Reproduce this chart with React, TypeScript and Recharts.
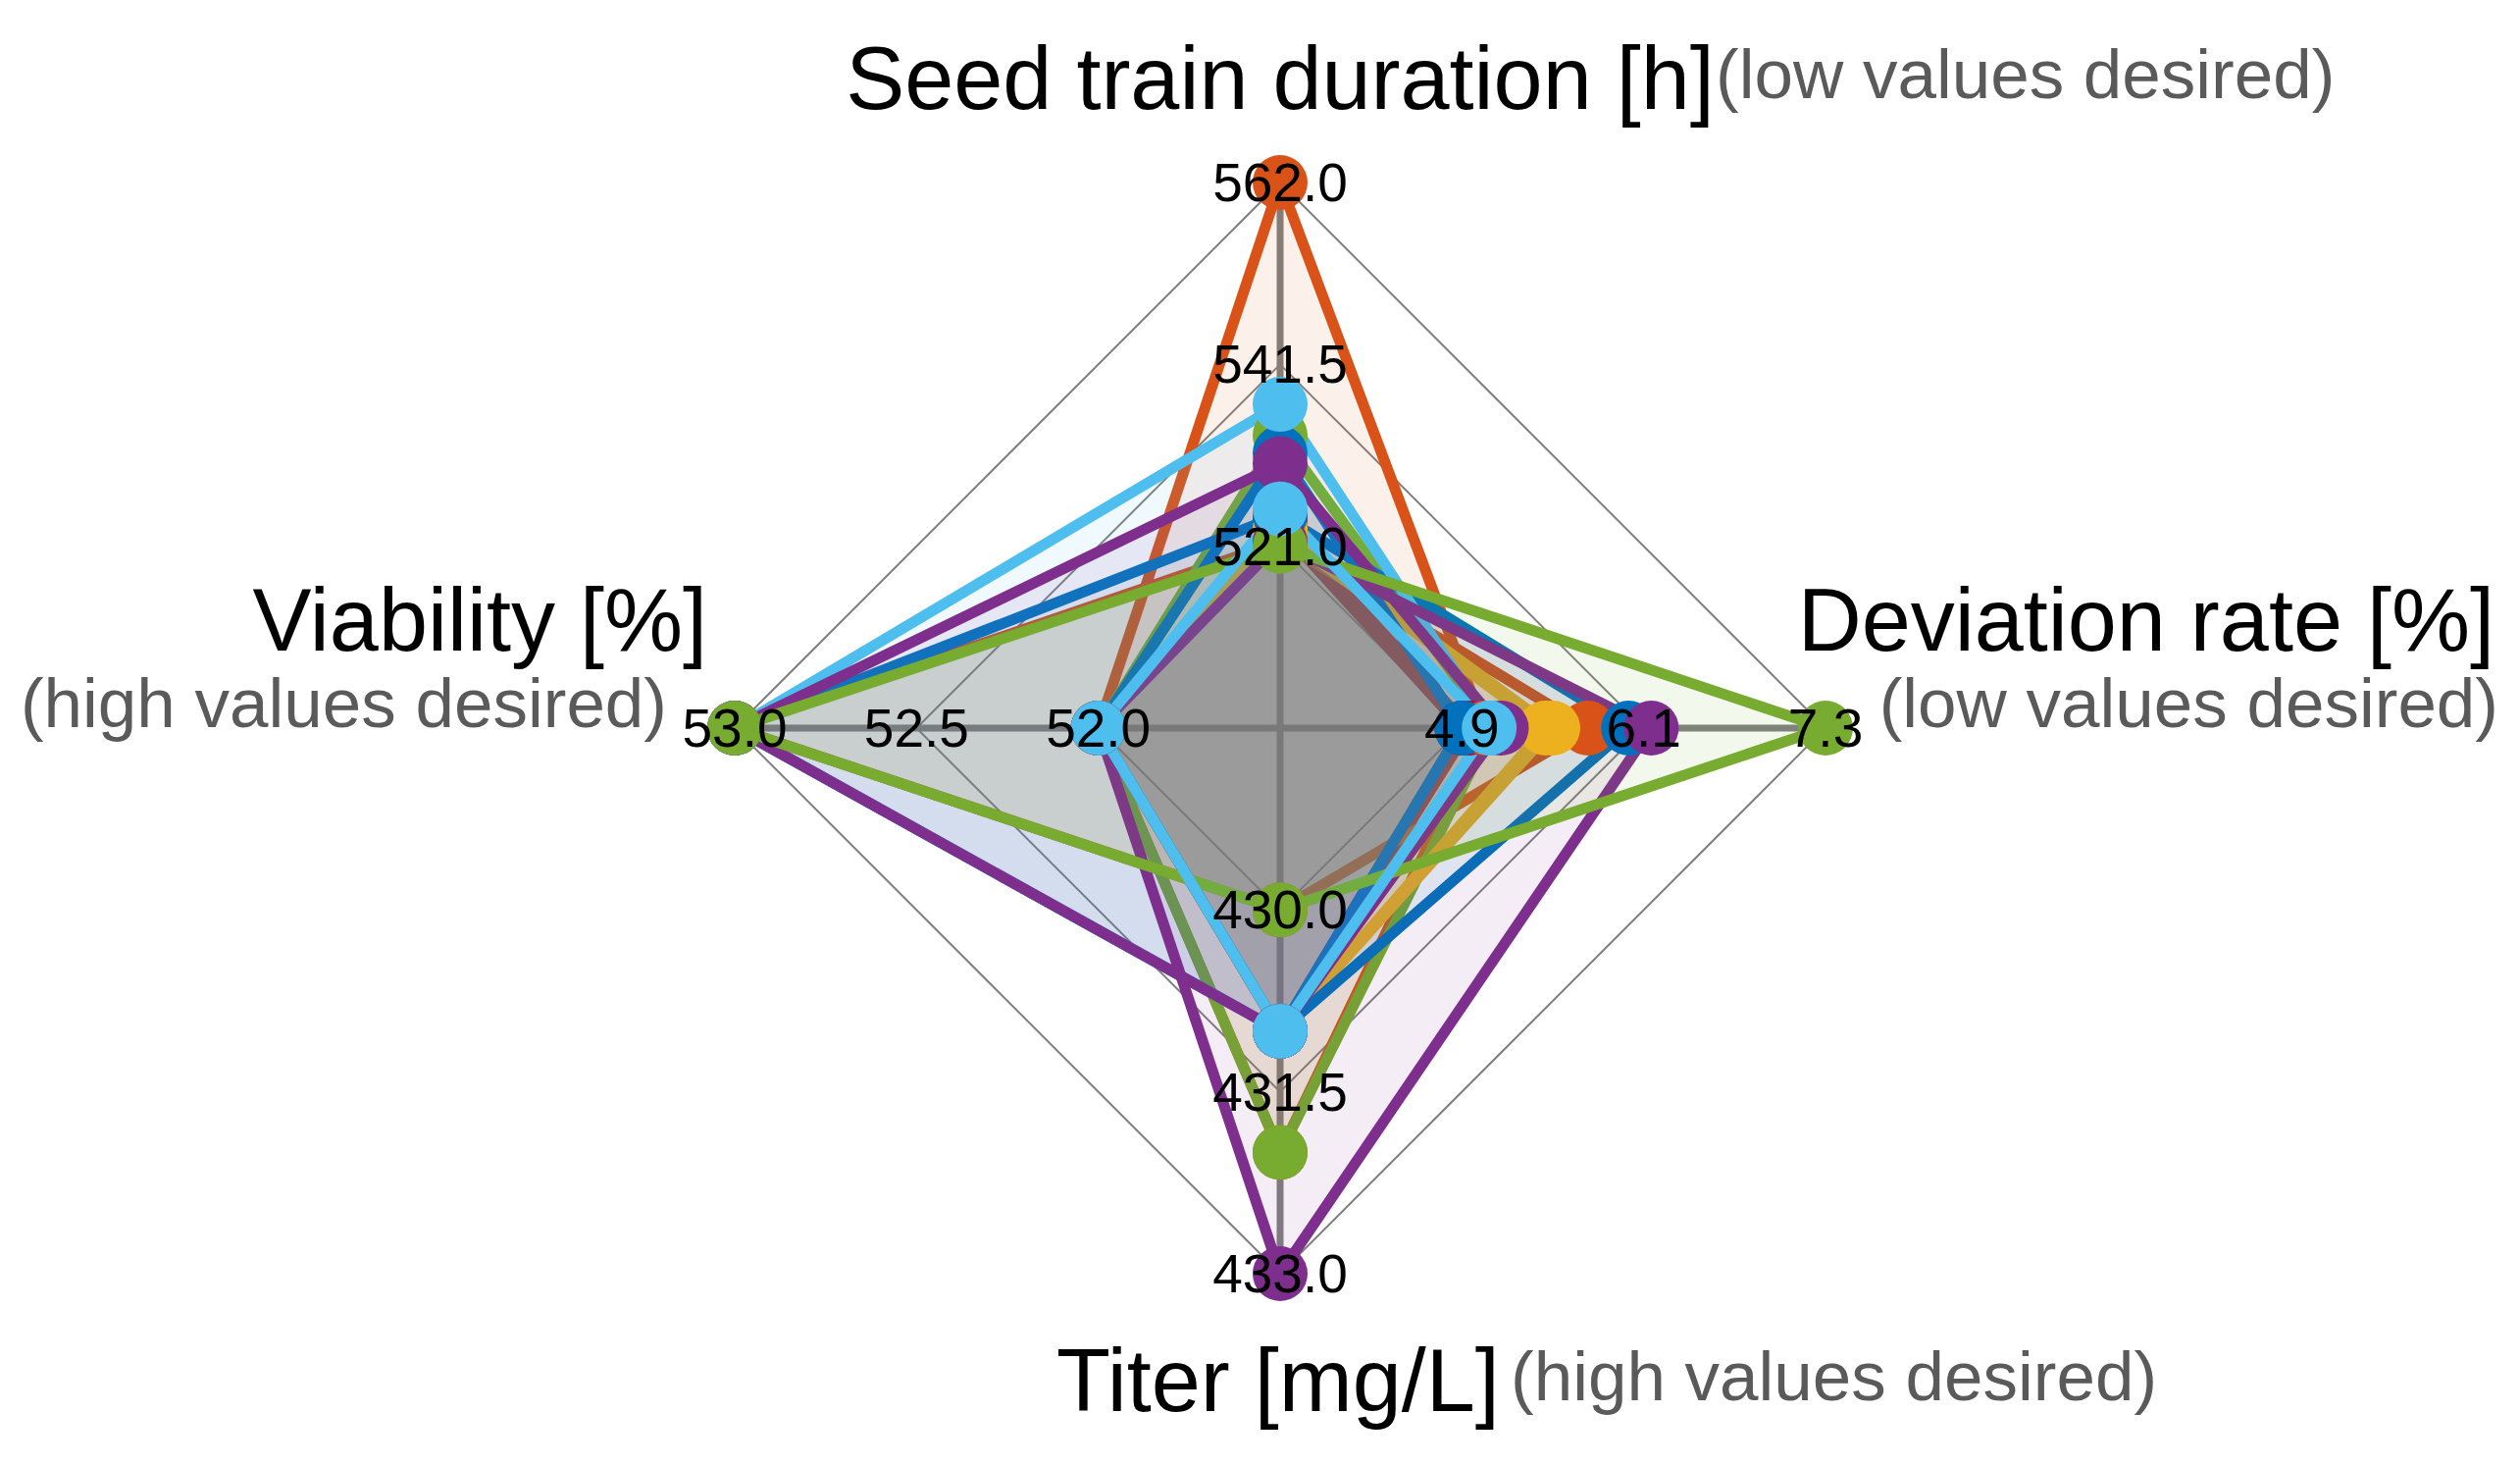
import React from "react";
import { RadarChart, Radar, PolarGrid, PolarAngleAxis, PolarRadiusAxis } from "recharts";

const W = 2569, H = 1493;
const CX = 1305, CY = 742, OUTER_R = 556;
const RINGS = [1 / 3, 2 / 3, 1];
const FONT = "'Liberation Sans', Arial, Helvetica, sans-serif";

// axes, clockwise from the top
const axisTitles = ["Seed train duration [h]", "Deviation rate [%]", "Titer [mg/L]", "Viability [%]"];
const axisHints = ["(low values desired)", "(low values desired)", "(high values desired)", "(high values desired)"];
const axisMin = [521, 4.9, 430, 52];
const axisMax = [562, 7.3, 433, 53];
const seedTicks = ["521.0", "541.5", "562.0"];
const deviationTicks = ["4.9", "6.1", "7.3"];
const titerTicks = ["430.0", "431.5", "433.0"];
const viabilityTicks = ["52.0", "52.5", "53.0"];
const tickLabels = [seedTicks, deviationTicks, titerTicks, viabilityTicks];

// each run: [seed train h, deviation %, titer mg/L, viability %], in drawing order
const run01 = [524.0, 4.95, 431.0, 52.0];
const run02 = [523.0, 4.9, 431.0, 52.0];
const run03 = [521.5, 5.73, 430.0, 53.0];
const run04 = [562.0, 5.05, 432.0, 52.0];
const run05 = [533.5, 5.1, 432.0, 52.0];
const run06 = [523.0, 5.5, 431.0, 52.0];
const run07 = [522.5, 5.45, 431.0, 52.0];
const run08 = [524.5, 6.0, 431.0, 53.0];
const run09 = [531.5, 4.9, 431.0, 52.0];
const run10 = [537.0, 5.1, 431.0, 53.0];
const run11 = [530.3, 5.16, 431.0, 53.0];
const run12 = [521.5, 6.15, 433.0, 52.0];
const run13 = [521.0, 7.3, 430.0, 53.0];
const run14 = [525.2, 5.08, 431.0, 52.0];

const runs = [run01, run02, run03, run04, run05, run06, run07, run08, run09, run10, run11, run12, run13, run14];
const runColors = [
  "#A2142F", "#A2142F", "#D95319", "#D95319", "#77AC30", "#EDB120", "#EDB120",
  "#0072BD", "#0072BD", "#4DBEEE", "#7E2F8E", "#7E2F8E", "#77AC30", "#4DBEEE",
];

// first ring = axis min, outer ring = axis max (center is one step below min)
const scale = (v: number, i: number) => (1 + (2 * (v - axisMin[i])) / (axisMax[i] - axisMin[i])) / 3;

const data = axisTitles.map((name, i) => {
  const row: any = { axis: name };
  runs.forEach((r, k) => { row[`r${k}`] = scale(r[i], i); });
  return row;
});

const titleLayout = [
  { x: 1305, y: 111, anchor: "middle", hx: 1749, hy: 100, hAnchor: "start" },
  { x: 2543, y: 663, anchor: "end", hx: 2547, hy: 741, hAnchor: "end" },
  { x: 1303, y: 1438, anchor: "middle", hx: 1540, hy: 1427, hAnchor: "start" },
  { x: 721, y: 663, anchor: "end", hx: 680, hy: 741, hAnchor: "end" },
];

function AxisDecor({ payload, index }: any) {
  const i = index ?? 0;
  const rad = (-(payload?.coordinate ?? 90) * Math.PI) / 180;
  const t = titleLayout[i];
  return (
    <g style={{ fontFamily: FONT }}>
      {tickLabels[i].map((lab, k) => {
        const r = OUTER_R * RINGS[k];
        return (
          <text key={k} x={CX + r * Math.cos(rad)} y={CY + r * Math.sin(rad)}
            textAnchor="middle" dominantBaseline="central" fontSize={55} fill="#000">
            {lab}
          </text>
        );
      })}
      <text x={t.x} y={t.y} textAnchor={t.anchor as any} fontSize={90} fill="#000">{axisTitles[i]}</text>
      <text x={t.hx} y={t.hy} textAnchor={t.hAnchor as any} fontSize={71} fill="#5a5a5a">{axisHints[i]}</text>
    </g>
  );
}

export default function App() {
  return (
    <div style={{ position: "absolute", left: 0, top: 0, width: W, height: H, background: "#fff" }}>
      <RadarChart width={W} height={H} data={data} cx={CX} cy={CY} outerRadius={OUTER_R}
        margin={{ top: 0, right: 0, bottom: 0, left: 0 }}>
        <PolarGrid gridType="polygon" radialLines={false}
          polarRadius={RINGS.map((f) => f * OUTER_R)} stroke="#808080" strokeWidth={2} />
        <PolarGrid gridType="polygon" radialLines polarRadius={[]} stroke="#808080" strokeWidth={7} />
        <PolarRadiusAxis domain={[0, 1]} type="number" tick={false} axisLine={false} />
        {runs.map((_, k) => (
          <Radar key={k} dataKey={`r${k}`} isAnimationActive={false} zIndex={100}
            stroke={runColors[k]} strokeWidth={11} strokeLinejoin="miter"
            fill={runColors[k]} fillOpacity={0.085}
            dot={{ r: 28, fill: runColors[k], fillOpacity: 1, stroke: "none" }} />
        ))}
        <PolarAngleAxis dataKey="axis" axisLine={false} tickLine={false} zIndex={3000}
          tick={(p: any) => <AxisDecor {...p} />} />
      </RadarChart>
    </div>
  );
}
